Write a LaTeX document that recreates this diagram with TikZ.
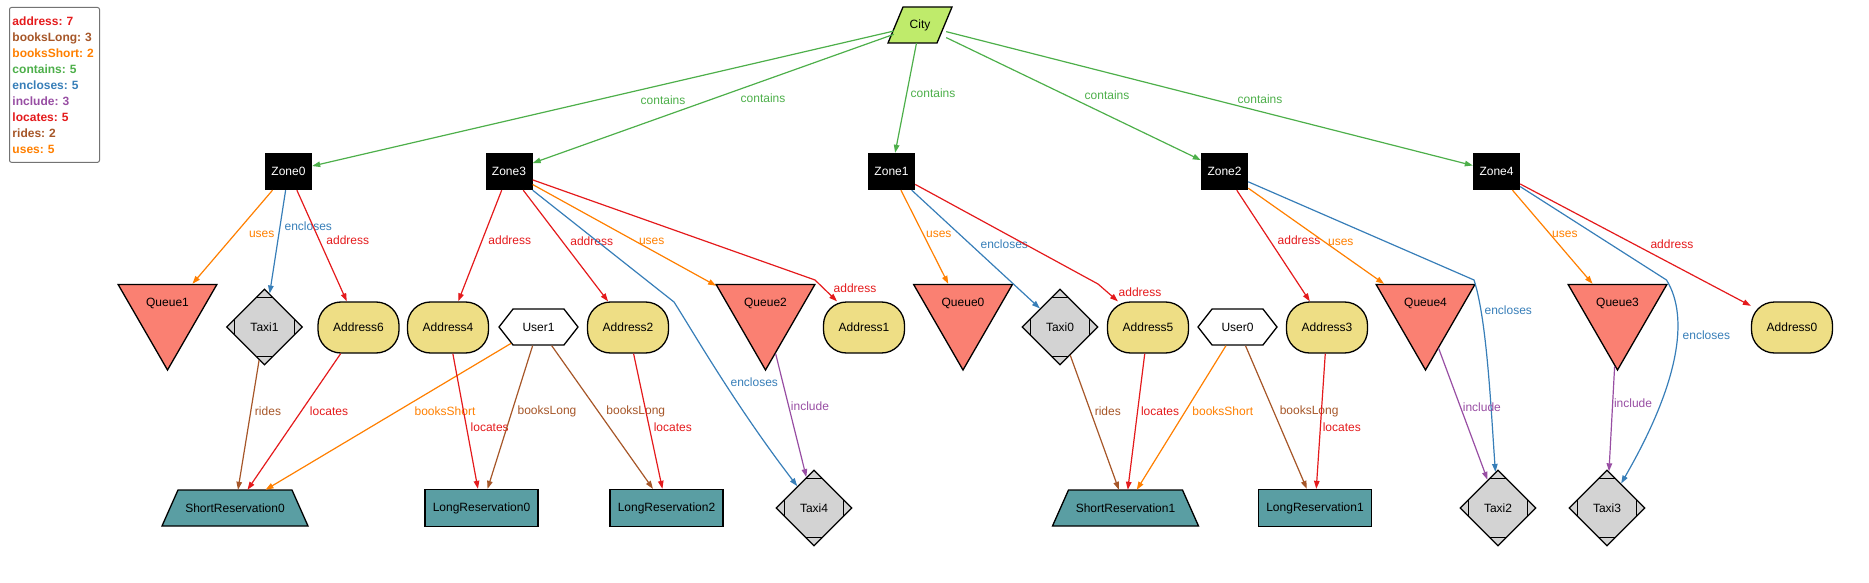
\documentclass[tikz,border=0pt]{standalone}
\usepackage{fontspec}
\setmainfont{Liberation Sans}
\usetikzlibrary{shapes.geometric,shapes.symbols,arrows.meta}
\definecolor{cAddr}{HTML}{E41A1C}
\definecolor{cBL}{HTML}{A65628}
\definecolor{cBS}{HTML}{FF7F00}
\definecolor{cCont}{HTML}{4DAF4A}
\definecolor{cEnc}{HTML}{377EB8}
\definecolor{cInc}{HTML}{984EA3}
\definecolor{cCity}{HTML}{BFEB6B}
\definecolor{cQueue}{HTML}{FA8072}
\definecolor{cAddrFill}{HTML}{EEDE85}
\definecolor{cTaxi}{HTML}{D3D3D3}
\definecolor{cRes}{HTML}{5A9EA3}
\frenchspacing
\begin{document}
\begin{tikzpicture}[x=1pt,y=-1pt,
  every node/.style={font=\fontsize{12}{14}\selectfont, inner sep=0pt},
  nodeline/.style={draw=black, line width=1.3pt},
  zone/.style={rectangle, fill=black, text=white, minimum width=47pt, minimum height=37pt},
  citybox/.style={rectangle, minimum width=52pt, minimum height=36pt},
  cityshape/.style={nodeline, fill=cCity, line join=miter},
  queue/.style={regular polygon, regular polygon sides=3, shape border rotate=180, minimum size=114pt, nodeline, fill=cQueue},
  taxi/.style={diamond, minimum width=76pt, minimum height=76pt, nodeline, fill=cTaxi,
    path picture={
      \draw[line width=1.3pt] ([shift={(-12,8)}]path picture bounding box.north) -- ++(24,0);
      \draw[line width=1.3pt] ([shift={(-12,-8)}]path picture bounding box.south) -- ++(24,0);
      \draw[line width=1.3pt] ([shift={(8,-12)}]path picture bounding box.west) -- ++(0,24);
      \draw[line width=1.3pt] ([shift={(-8,-12)}]path picture bounding box.east) -- ++(0,24);
    }},
  addr/.style={rectangle, rounded corners=23pt, minimum width=81pt, minimum height=51pt, nodeline, fill=cAddrFill},
  user/.style={signal, signal to=east and west, signal pointer angle=104, minimum width=79pt, minimum height=36pt, nodeline, fill=white},
  sresbox/.style={rectangle, minimum width=114pt, minimum height=36pt},
  sresshape/.style={nodeline, fill=cRes},
  lres/.style={rectangle, minimum width=113pt, minimum height=37pt, nodeline, fill=cRes},
  conn/.style={line width=1.2pt, -{Triangle[length=8pt,width=5.5pt]}},
  rAddr/.style={conn, color=cAddr},
  rLoc/.style={conn, color=cAddr},
  rBL/.style={conn, color=cBL},
  rRides/.style={conn, color=cBL},
  rBS/.style={conn, color=cBS},
  rUses/.style={conn, color=cBS},
  rCont/.style={conn, color=cCont},
  rEnc/.style={conn, color=cEnc},
  rInc/.style={conn, color=cInc},
  legendbox/.style={draw=black!55, line width=1pt, rounded corners=2pt, align=left, text width=84pt, inner xsep=3pt, inner ysep=9pt, font=\fontsize{12}{16}\selectfont\bfseries}
]
\useasboundingbox (0,0) rectangle (1869,583);

% legend
\node[legendbox, anchor=north west] (legend) at (9,7) {%
\textcolor{cAddr}{address: 7}\\
\textcolor{cBL}{booksLong: 3}\\
\textcolor{cBS}{booksShort: 2}\\
\textcolor{cCont}{contains: 5}\\
\textcolor{cEnc}{encloses: 5}\\
\textcolor{cInc}{include: 3}\\
\textcolor{cAddr}{locates: 5}\\
\textcolor{cBL}{rides: 2}\\
\textcolor{cBS}{uses: 5}};

% City (parallelogram)
\filldraw[cityshape] (888,43) -- (903,7) -- (952,7) -- (937,43) -- cycle;
\node[citybox] (city) at (920,25) {City};

% zones
\node[zone] (z0) at (288.5,171.5) {Zone0};
\node[zone] (z3) at (509,171.5) {Zone3};
\node[zone] (z1) at (891.5,171.5) {Zone1};
\node[zone] (z2) at (1224.5,171.5) {Zone2};
\node[zone] (z4) at (1496.5,171.5) {Zone4};

% queues
\node[queue] (q1) at (167.5,313) {};
\node (q1t) at (167.5,303) {Queue1};
\node[queue] (q2) at (765.5,313) {};
\node (q2t) at (765.5,303) {Queue2};
\node[queue] (q0) at (963,313) {};
\node (q0t) at (963,303) {Queue0};
\node[queue] (q4) at (1425.5,313) {};
\node (q4t) at (1425.5,303) {Queue4};
\node[queue] (q3) at (1617.5,313) {};
\node (q3t) at (1617.5,303) {Queue3};

% taxis
\node[taxi] (t1) at (264.5,327) {Taxi1};
\node[taxi] (t0) at (1060,327) {Taxi0};
\node[taxi] (t4) at (814,508) {Taxi4};
\node[taxi] (t2) at (1498,508) {Taxi2};
\node[taxi] (t3) at (1607,508) {Taxi3};

% addresses
\node[addr] (a6) at (358.5,327.5) {Address6};
\node[addr] (a4) at (448,327.5) {Address4};
\node[addr] (a2) at (628,327.5) {Address2};
\node[addr] (a1) at (864,327.5) {Address1};
\node[addr] (a5) at (1148,327.5) {Address5};
\node[addr] (a3) at (1327,327.5) {Address3};
\node[addr] (a0) at (1792,327.5) {Address0};

% users
\node[user] (u1) at (538.5,327) {User1};
\node[user] (u0) at (1237.5,327) {User0};

% reservations
\filldraw[sresshape] (162,526) -- (178,490) -- (292,490) -- (308,526) -- cycle;
\node[sresbox] (sr0) at (235,508) {ShortReservation0};
\filldraw[sresshape] (1052.5,526) -- (1068.5,490) -- (1182.5,490) -- (1198.5,526) -- cycle;
\node[sresbox] (sr1) at (1125.5,508) {ShortReservation1};
\node[lres] (lr0) at (481.5,508) {LongReservation0};
\node[lres] (lr2) at (666.5,508) {LongReservation2};
\node[lres] (lr1) at (1315,508) {LongReservation1};

% bend points
\coordinate (k31) at (815,280);
\coordinate (k15) at (1098,284);
\coordinate (k34) at (674,302);
\coordinate (k22) at (1474,280);
\coordinate (k43) at (1666.5,280);

% contains
\draw[rCont] (city) -- (z0) node[at={(663,100)}] {contains};
\draw[rCont] (city) -- (z3) node[at={(763,98)}] {contains};
\draw[rCont] (city) -- (z1) node[at={(933,93)}] {contains};
\draw[rCont] (city) -- (z2) node[at={(1107,95)}] {contains};
\draw[rCont] (city) -- (z4) node[at={(1260,99)}] {contains};

% Zone0
\draw[rUses] (z0) -- (q1) node[at={(261.7,234)}] {uses};
\draw[rEnc] (z0) -- (t1) node[at={(308.3,226)}] {encloses};
\draw[rAddr] (z0) -- (a6) node[at={(347.8,240.7)}] {address};

% Zone3
\draw[rAddr] (z3) -- (a4) node[at={(509.8,240.7)}] {address};
\draw[rAddr] (z3) -- (a2) node[at={(591.7,241.7)}] {address};
\draw[rUses] (z3) -- (q2) node[at={(651.7,241.7)}] {uses};
\draw[rEnc] (z3) -- (k34) .. controls (692,330) and (735,405) .. (t4) node[at={(754.3,382.7)}] {encloses};
\draw[rAddr] (z3) -- (k31) -- (a1) node[at={(855,288.3)}] {address};

% Zone1
\draw[rUses] (z1) -- (q0) node[at={(938.8,234)}] {uses};
\draw[rEnc] (z1) -- (t0) node[at={(1004.3,244)}] {encloses};
\draw[rAddr] (z1) -- (k15) -- (a5) node[at={(1140,292.7)}] {address};

% Zone2
\draw[rAddr] (z2) -- (a3) node[at={(1299,240.7)}] {address};
\draw[rUses] (z2) -- (q4) node[at={(1340.8,242.3)}] {uses};
\draw[rEnc] (z2) -- (k22) .. controls (1487,320) and (1491,410) .. (t2) node[at={(1508.3,310)}] {encloses};

% Zone4
\draw[rUses] (z4) -- (q3) node[at={(1564.9,234)}] {uses};
\draw[rEnc] (z4) -- (k43) .. controls (1690,318) and (1678,385) .. (t3) node[at={(1706.4,335.7)}] {encloses};
\draw[rAddr] (z4) -- (a0) node[at={(1671.9,244)}] {address};

% lower tier
\draw[rRides] (t1) -- (sr0) node[at={(268,411.7)}] {rides};
\draw[rLoc] (a6) -- (sr0) node[at={(329,411.7)}] {locates};
\draw[rBS] (u1) -- (sr0) node[at={(445,411.7)}] {booksShort};
\draw[rLoc] (a4) -- (lr0) node[at={(489.7,427.7)}] {locates};
\draw[rBL] (u1) -- (lr0) node[at={(547,411.7)}] {booksLong};
\draw[rBL] (u1) -- (lr2) node[at={(635.8,411.7)}] {booksLong};
\draw[rLoc] (a2) -- (lr2) node[at={(672.8,427.7)}] {locates};
\draw[rInc] (q2) -- (t4) node[at={(810,406.7)}] {include};

\draw[rRides] (t0) -- (sr1) node[at={(1107.8,411.7)}] {rides};
\draw[rLoc] (a5) -- (sr1) node[at={(1160,411.7)}] {locates};
\draw[rBS] (u0) -- (sr1) node[at={(1222.8,411.7)}] {booksShort};
\draw[rBL] (u0) -- (lr1) node[at={(1309.1,411.7)}] {booksLong};
\draw[rLoc] (a3) -- (lr1) node[at={(1341.8,427.7)}] {locates};
\draw[rInc] (q4) -- (t2) node[at={(1481.9,407.3)}] {include};
\draw[rInc] (q3) -- (t3) node[at={(1633,403)}] {include};
\end{tikzpicture}
\end{document}
